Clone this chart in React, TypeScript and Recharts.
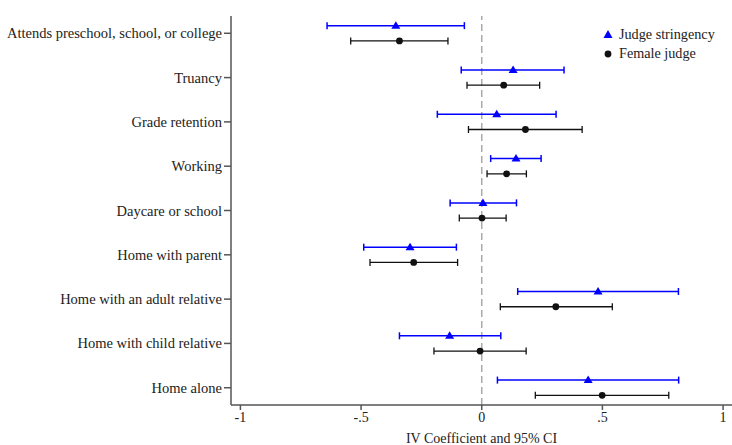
import React from 'react';
import {
  ScatterChart, Scatter, XAxis, YAxis, ErrorBar, ReferenceLine, Legend,
} from 'recharts';

const CATEGORIES = [
  'Attends preschool, school, or college',
  'Truancy',
  'Grade retention',
  'Working',
  'Daycare or school',
  'Home with parent',
  'Home with an adult relative',
  'Home with child relative',
  'Home alone',
];

// Judge stringency: point estimate and 95% CI bounds
const STRINGENCY_COEF = [-0.356, 0.130, 0.062, 0.142, 0.005, -0.297, 0.482, -0.133, 0.441];
const STRINGENCY_LO = [-0.641, -0.085, -0.184, 0.037, -0.131, -0.489, 0.149, -0.341, 0.065];
const STRINGENCY_HI = [-0.072, 0.341, 0.308, 0.246, 0.144, -0.105, 0.815, 0.079, 0.816];

// Female judge
const FEMALE_COEF = [-0.341, 0.091, 0.181, 0.103, 0.001, -0.282, 0.307, -0.007, 0.499];
const FEMALE_LO = [-0.543, -0.061, -0.055, 0.022, -0.093, -0.463, 0.077, -0.198, 0.222];
const FEMALE_HI = [-0.140, 0.240, 0.416, 0.185, 0.101, -0.100, 0.541, 0.184, 0.775];

const X_TICKS = [-1, -0.5, 0, 0.5, 1];
const X_TICK_LABELS = ['-1', '-.5', '0', '.5', '1'];

const FONT = '"Liberation Serif", serif';
const BLUE = '#0000ff';
const BLACK = '#111111';
const OFFSET = 0.172;

const build = (coef: number[], lo: number[], hi: number[], shift: number) =>
  coef.map((c, i) => ({ x: c, y: i + shift, err: [c - lo[i], hi[i] - c] }));

const stringencyData = build(STRINGENCY_COEF, STRINGENCY_LO, STRINGENCY_HI, -OFFSET);
const femaleData = build(FEMALE_COEF, FEMALE_LO, FEMALE_HI, OFFSET);

const Triangle = (props: any) => {
  const { cx, cy } = props;
  return <polygon points={`${cx},${cy - 4.5} ${cx - 4.5},${cy + 3} ${cx + 4.5},${cy + 3}`} fill={BLUE} />;
};

const Dot = (props: any) => {
  const { cx, cy } = props;
  return <circle cx={cx} cy={cy} r={3.4} fill={BLACK} />;
};

// single-line category labels (the default tick wraps long text)
const CategoryTick = (props: any) => {
  const { x, y, payload } = props;
  return (
    <text x={x} y={y} dy="0.35em" textAnchor="end" fill="#222" fontFamily={FONT} fontSize={14.5}>
      {CATEGORIES[payload.value]}
    </text>
  );
};

const CustomLegend = () => (
  <div style={{ fontFamily: FONT, fontSize: 14.2, color: '#222', lineHeight: '19px' }}>
    <div style={{ display: 'flex', alignItems: 'center' }}>
      <svg width={14} height={12}><polygon points="6,1 1.5,9 10.5,9" fill={BLUE} /></svg>
      <span style={{ marginLeft: 3 }}>Judge stringency</span>
    </div>
    <div style={{ display: 'flex', alignItems: 'center' }}>
      <svg width={14} height={12}><circle cx={6} cy={6} r={3.4} fill={BLACK} /></svg>
      <span style={{ marginLeft: 3 }}>Female judge</span>
    </div>
  </div>
);

export default function App() {
  return (
    <div style={{ position: 'absolute', left: 0, top: 0, background: '#fff' }}>
      <ScatterChart width={732} height={445} margin={{ top: 16, right: 0, bottom: 0, left: 0 }}>
        <XAxis
          type="number"
          dataKey="x"
          domain={[-1.039, 1.037]}
          ticks={X_TICKS}
          tickFormatter={(v: number) => X_TICK_LABELS[X_TICKS.indexOf(v)] ?? String(v)}
          allowDataOverflow
          height={40}
          tickSize={5}
          stroke="#555"
          strokeWidth={1.5}
          tick={{ fill: '#222', fontFamily: FONT, fontSize: 14 }}
          label={{ value: 'IV Coefficient and 95% CI', position: 'insideBottom', offset: 2, fill: '#222', fontFamily: FONT, fontSize: 14 }}
        />
        <YAxis
          type="number"
          dataKey="y"
          domain={[-0.39, 8.39]}
          reversed
          allowDataOverflow
          ticks={CATEGORIES.map((_, i) => i)}
          interval={0}
          width={231}
          tickSize={7}
          stroke="#555"
          strokeWidth={1.5}
          tick={<CategoryTick />}
        />
        <ReferenceLine x={0} stroke="#aaaaaa" strokeWidth={1.5} strokeDasharray="7 4" />
        <Scatter name="Judge stringency" data={stringencyData} fill={BLUE} shape={<Triangle />} isAnimationActive={false}>
          <ErrorBar dataKey="err" direction="x" width={3.5} stroke={BLUE} strokeWidth={1.5} />
        </Scatter>
        <Scatter name="Female judge" data={femaleData} fill={BLACK} shape={<Dot />} isAnimationActive={false}>
          <ErrorBar dataKey="err" direction="x" width={3.5} stroke={BLACK} strokeWidth={1.3} />
        </Scatter>
        <Legend
          layout="vertical"
          align="center"
          verticalAlign="middle"
          wrapperStyle={{ position: 'absolute', top: 25, left: 602, width: 130 }}
          content={<CustomLegend />}
        />
      </ScatterChart>
    </div>
  );
}
